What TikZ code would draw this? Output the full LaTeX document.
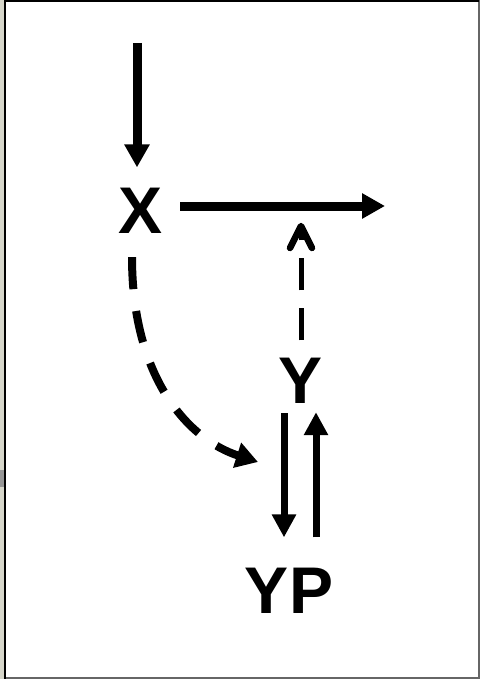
\documentclass[tikz,border=0pt]{standalone}
\usepackage{fontspec}
\setmainfont{Liberation Sans}
\usetikzlibrary{arrows.meta,calc}
\tikzset{
  lbl/.style={inner sep=0pt, anchor=base, font=\bfseries\fontsize{66}{66}\selectfont},
  thickarr/.style={line width=9pt, -{Triangle[length=23pt,width=24pt]}},
  pairarr/.style={line width=7pt, -{Triangle[length=23pt,width=23pt]}},
  dashline/.style={line width=5pt, dash pattern=on 32pt off 18pt},
  barbhead/.style={line width=6.5pt, line cap=round, line join=round},
  dcurve/.style={line width=8pt, dash pattern=on 32pt off 22pt,
    -{Triangle[length=22pt,width=25pt]}}
}
\begin{document}
\begin{tikzpicture}[x=1pt,y=-1pt]
  % page frame
  \useasboundingbox (0,0) rectangle (480,679);
  \fill[white] (0,0) rectangle (480,679);
  \fill[fill={rgb,255:red,214;green,214;blue,202}] (0,0) rectangle (4.3,679);
  \fill[fill={rgb,255:red,150;green,150;blue,150}] (0,470) rectangle (4.3,487);
  \draw[line width=1.5pt, gray!80!black] (5.2,0.8) -- (479.2,0.8) -- (479.2,678.2) -- (5.2,678.2);
  \draw[line width=1.8pt, black] (5.2,679) -- (5.2,0.8) -- (479,0.8);

  % labels
  \node[lbl] (X) at (141,233) {X};
  \node[lbl] (Y) at (301,403) {Y};
  \node[lbl] (YP) at (289,613) {YP};

  % free ends
  \coordinate (src) at (137,43);
  \coordinate (out) at (385,206);
  \coordinate (hit) at (301,226);
  \coordinate (tgt) at (258,462);

  % solid arrows
  \draw[thickarr, shorten >=20pt] (src) -- (src |- X.north);
  \draw[thickarr, shorten <=17pt] (X.east |- out) -- (out);
  \draw[pairarr, shorten <=10pt, shorten >=30pt]
    ($(Y.south)+(-17,0)$) -- ($(YP.north)+(-5,0)$);
  \draw[pairarr, shorten <=30pt, shorten >=9pt]
    ($(YP.north)+(27,0)$) -- ($(Y.south)+(15,0)$);

  % dashed arrow from Y up to the X line, with a heavy barbed head
  \draw[dashline, shorten <=17pt, shorten >=2pt] (hit |- Y.north) -- (hit);
  \draw[barbhead] ($(hit)+(-11,22)$) -- (hit) -- ($(hit)+(11,22)$);

  % dashed curve from X down to the Y/YP pair
  \draw[dcurve] ($(X.south)+(-9,24)$) .. controls (132,380) and (190,440) .. (tgt);
\end{tikzpicture}
\end{document}
